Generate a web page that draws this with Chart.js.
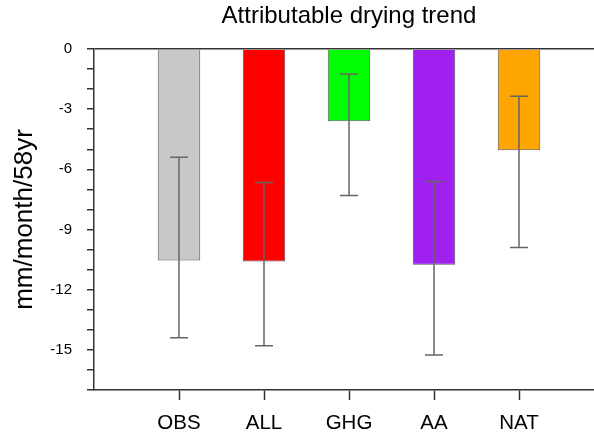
<!DOCTYPE html>
<html>
<head>
<meta charset="utf-8">
<script src="https://cdn.jsdelivr.net/npm/chart.js@4/dist/chart.umd.min.js"></script>
<style>
  html, body { margin: 0; padding: 0; background: #fff; overflow: hidden; }
  #wrap { width: 594px; height: 435px; overflow: hidden; }
</style>
</head>
<body>
<div id="wrap"><canvas id="chart" width="604" height="435"></canvas></div>
<script>
// values
const categories = ['OBS', 'ALL', 'GHG', 'AA', 'NAT'];
const positions = [1, 2, 3, 4, 5];
const trend = [-10.55, -10.6, -3.6, -10.75, -5.05];
const errHigh = [-5.4, -6.65, -1.25, -6.6, -2.35];
const errLow = [-14.4, -14.8, -7.3, -15.25, -9.9];
const barColors = ['#c8c8c8', '#ff0000', '#00ff00', '#a020f0', '#ffa500'];
const yTicks = [0, -3, -6, -9, -12, -15];
const chartTitle = 'Attributable drying trend';

const FONT = "'Liberation Sans', Arial, Helvetica, sans-serif";
const AXIS = '#333';

// whiskers, positioned with the chart's own scales
const errorBars = {
    id: 'errorBars',
    afterDatasetsDraw(chart) {
        const ctx = chart.ctx, xs = chart.scales.x, ys = chart.scales.y;
        ctx.save();
        ctx.strokeStyle = '#666';
        ctx.lineWidth = 1.5;
        positions.forEach(function(p, i) {
            const x = xs.getPixelForValue(p);
            const y1 = ys.getPixelForValue(errHigh[i]);
            const y2 = ys.getPixelForValue(errLow[i]);
            ctx.beginPath();
            ctx.moveTo(x, y1); ctx.lineTo(x, y2);
            ctx.moveTo(x - 9, y1); ctx.lineTo(x + 9, y1);
            ctx.moveTo(x - 9, y2); ctx.lineTo(x + 9, y2);
            ctx.stroke();
        });
        ctx.restore();
    }
};

// title centred over the plot area, not the canvas
const plotTitle = {
    id: 'plotTitle',
    afterDraw(chart) {
        const ctx = chart.ctx, a = chart.chartArea;
        ctx.save();
        ctx.fillStyle = '#000';
        ctx.font = '24px ' + FONT;
        ctx.textAlign = 'center';
        ctx.textBaseline = 'alphabetic';
        ctx.fillText(chartTitle, (a.left + a.right) / 2, 23);
        ctx.restore();
    }
};

var data = {
    datasets: [{
        data: positions.map((x, i) => ({ x: x, y: trend[i] })),
        backgroundColor: barColors,
        borderColor: '#555',
        borderWidth: 1,
        barPercentage: 0.5,
        categoryPercentage: 1.0
    }]
};

let config = {
    type: 'bar',
    data: data,
    plugins: [errorBars, plotTitle],
    options: {
        responsive: false,
        animation: false,
        layout: { padding: { top: 49, left: 0, right: 0, bottom: 0 } },
        plugins: {
            legend: { display: false },
            tooltip: { enabled: false },
            title: { display: false }
        },
        scales: {
            x: {
                type: 'linear',
                min: 0,
                max: 6,
                offset: false,
                afterBuildTicks: s => { s.ticks = positions.map(v => ({ value: v })); },
                afterFit: s => { s.height = 45; },
                ticks: {
                    callback: v => categories[positions.indexOf(v)] ?? '',
                    color: '#000',
                    font: { family: FONT, size: 20.5 },
                    padding: 11,
                    maxRotation: 0,
                    autoSkip: false
                },
                grid: { offset: false, drawOnChartArea: false, tickLength: 10, tickColor: AXIS, tickWidth: 1.5 },
                border: { color: AXIS, width: 1.5 }
            },
            y: {
                min: -17,
                max: 0,
                afterFit: s => { s.width = 94; },
                ticks: {
                    stepSize: 1,
                    autoSkip: false,
                    callback: v => yTicks.includes(v) ? String(v) : '',
                    color: '#000',
                    font: { family: FONT, size: 15 },
                    padding: 15
                },
                grid: {
                    color: c => (c.tick && c.tick.value === 0) ? AXIS : 'rgba(0,0,0,0)',
                    lineWidth: 1.5,
                    tickColor: AXIS,
                    tickWidth: 1.5,
                    tickLength: 7
                },
                border: { color: AXIS, width: 1.5 },
                title: {
                    display: true,
                    text: 'mm/month/58yr',
                    color: '#000',
                    font: { family: FONT, size: 26 },
                    padding: { top: 9, bottom: 0 }
                }
            }
        }
    }
};

var barChart = new Chart(document.getElementById('chart'), config);
</script>
</body>
</html>
